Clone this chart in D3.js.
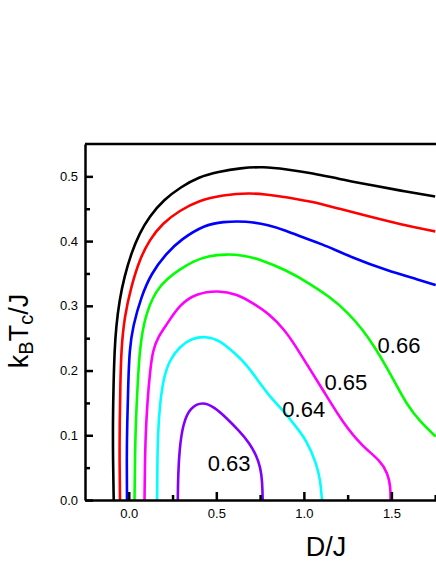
<!DOCTYPE html>
<html>
<head>
<meta charset="utf-8">
<script src="https://cdn.jsdelivr.net/npm/d3@7"></script>
<style>
	body{margin:0;background:#fff;}
	text{font-family:'Liberation Sans',Arial,sans-serif;}
</style>
</head>
<body>
<script>
// curves: D/J and kBTc/J
var blackD = [-0.086,-0.09,-0.091,-0.087,-0.081,-0.072,-0.053,-0.025,0.014,0.061,0.118,0.2,0.3,0.4,0.51,0.64,0.766,0.9,1.051,1.2,1.375,1.55,1.75];
var blackT = [0,0.06,0.12,0.18,0.232,0.268,0.309,0.345,0.381,0.412,0.438,0.464,0.484,0.499,0.507,0.513,0.515,0.511,0.505,0.496,0.487,0.478,0.469];
var redD = [-0.05,-0.053,-0.052,-0.048,-0.043,-0.025,0.014,0.061,0.118,0.194,0.29,0.4,0.537,0.69,0.85,1.05,1.2,1.375,1.55,1.75];
var redT = [0,0.06,0.12,0.18,0.232,0.283,0.33,0.371,0.402,0.428,0.447,0.463,0.471,0.475,0.47,0.461,0.45,0.438,0.426,0.415];
var blueD = [-0.01,-0.012,-0.009,-0.003,0.004,0.023,0.071,0.128,0.214,0.3,0.433,0.537,0.67,0.8,0.9,1.0,1.09,1.28,1.47,1.66,1.753];
var blueT = [0,0.06,0.12,0.18,0.232,0.268,0.314,0.35,0.381,0.403,0.425,0.43,0.431,0.425,0.416,0.405,0.397,0.374,0.355,0.34,0.332];
var greenD = [0.033,0.035,0.04,0.05,0.062,0.09,0.157,0.22,0.29,0.37,0.451,0.56,0.65,0.75,0.9,1.03,1.147,1.25,1.337,1.41,1.471,1.53,1.585,1.66,1.753];
var greenT = [0,0.06,0.12,0.175,0.232,0.283,0.325,0.342,0.356,0.369,0.377,0.38,0.378,0.372,0.355,0.335,0.314,0.29,0.263,0.234,0.206,0.177,0.149,0.122,0.098];
var magentaD = [0.09,0.092,0.096,0.106,0.12,0.137,0.17,0.214,0.29,0.385,0.51,0.62,0.709,0.8,0.89,0.952,1.014,1.109,1.223,1.337,1.433,1.48,1.495,1.495];
var magentaT = [0,0.05,0.1,0.15,0.195,0.232,0.253,0.27,0.302,0.319,0.324,0.318,0.304,0.288,0.263,0.238,0.211,0.17,0.119,0.082,0.062,0.041,0.02,0];
var cyanD = [0.162,0.163,0.166,0.178,0.2,0.233,0.29,0.36,0.44,0.52,0.6,0.671,0.75,0.82,0.88,0.95,1.014,1.071,1.095,1.103];
var cyanT = [0,0.05,0.1,0.15,0.19,0.216,0.237,0.25,0.253,0.247,0.228,0.21,0.18,0.155,0.139,0.115,0.093,0.057,0.03,0];
var violetD = [0.28,0.282,0.29,0.31,0.35,0.423,0.49,0.557,0.63,0.69,0.73,0.752,0.762,0.765];
var violetT = [0,0.04,0.08,0.118,0.143,0.152,0.143,0.127,0.107,0.088,0.068,0.05,0.03,0];

var labelText = ['0.63','0.64','0.65','0.66'];
var labelD = [0.451,0.877,1.118,1.421];
var labelT = [0.045,0.128,0.170,0.227];

var xMajor = [0,0.5,1.0,1.5];
var xMinor = [0.25,0.75,1.25,1.75];
var yMajor = [0,0.1,0.2,0.3,0.4,0.5];
var yMinor = [0.05,0.15,0.25,0.35,0.45];

var width = 436;
var height = 564;
var plotLeft = 85, plotRight = 566.5, plotTop = 144, plotBottom = 500;

var curves = [
	{d:blackD,t:blackT,color:'#000000'},
	{d:redD,t:redT,color:'#ff0000'},
	{d:blueD,t:blueT,color:'#0000ff'},
	{d:greenD,t:greenT,color:'#00ff00'},
	{d:magentaD,t:magentaT,color:'#ff00ff'},
	{d:cyanD,t:cyanT,color:'#00ffff'},
	{d:violetD,t:violetT,color:'#8000ff'}
];

var canvas = d3.select('body')
				.append('svg')
				.attr('width',width)
				.attr('height',height);

var scaleX = d3.scaleLinear()
				.domain([-0.25,2.5])
				.range([plotLeft,plotRight]);
var scaleY = d3.scaleLinear()
				.domain([0,0.55])
				.range([plotBottom,plotTop]);

var line = d3.line()
			.x((p)=>scaleX(p[0]))
			.y((p)=>scaleY(p[1]))
			.curve(d3.curveBasis);

canvas.append('g')
	.selectAll('path')
	.data(curves)
	.enter()
	.append('path')
	.attr('d',(c)=>line(c.d.map((v,i)=>[v,c.t[i]])))
	.attr('fill','none')
	.attr('stroke',(c)=>c.color)
	.attr('stroke-width',2.6);

canvas.append('g')
	.selectAll('text')
	.data(labelText)
	.enter()
	.append('text')
	.attr('x',(d,i)=>scaleX(labelD[i]))
	.attr('y',(d,i)=>scaleY(labelT[i]))
	.attr('font-size',22)
	.text((d)=>d);

// axes, ticks pointing inside
var yAxis = canvas.append('g')
				.attr('transform','translate('+plotLeft+',0)')
				.call(d3.axisLeft(scaleY).tickValues(yMajor).tickFormat(d3.format('.1f')).tickSizeInner(-8).tickSizeOuter(0).tickPadding(7));
canvas.append('g')
	.attr('transform','translate('+plotLeft+',0)')
	.call(d3.axisLeft(scaleY).tickValues(yMinor).tickFormat('').tickSizeInner(-5).tickSizeOuter(0))
	.select('.domain').remove();
var xAxis = canvas.append('g')
				.attr('transform','translate(0,'+plotBottom+')')
				.call(d3.axisBottom(scaleX).tickValues(xMajor).tickFormat(d3.format('.1f')).tickSizeInner(-8).tickSizeOuter(0).tickPadding(9));
canvas.append('g')
	.attr('transform','translate(0,'+plotBottom+')')
	.call(d3.axisBottom(scaleX).tickValues(xMinor).tickFormat('').tickSizeInner(-5).tickSizeOuter(0))
	.select('.domain').remove();
canvas.append('line')
	.attr('x1',plotLeft)
	.attr('x2',plotRight)
	.attr('y1',plotTop)
	.attr('y2',plotTop)
	.attr('stroke','#000')
	.attr('stroke-width',2.5);

canvas.selectAll('.domain, .tick line')
	.attr('stroke','#000')
	.attr('stroke-width',2.5);
canvas.selectAll('.tick text')
	.attr('font-family',"'Liberation Sans',Arial,sans-serif")
	.attr('font-size',13)
	.attr('fill','#000');

canvas.append('text')
	.attr('x',326)
	.attr('y',556)
	.attr('text-anchor','middle')
	.attr('font-size',27)
	.text('D/J');

var yTitle = canvas.append('text')
				.attr('transform','translate(28,331) rotate(-90)')
				.attr('text-anchor','middle')
				.attr('font-size',27);
yTitle.append('tspan').text('k');
yTitle.append('tspan').attr('font-size',20).attr('dy',5).text('B');
yTitle.append('tspan').attr('dy',-5).text('T');
yTitle.append('tspan').attr('font-size',20).attr('dy',5).text('c');
yTitle.append('tspan').attr('dy',-5).text('/J');
</script>
</body>
</html>
